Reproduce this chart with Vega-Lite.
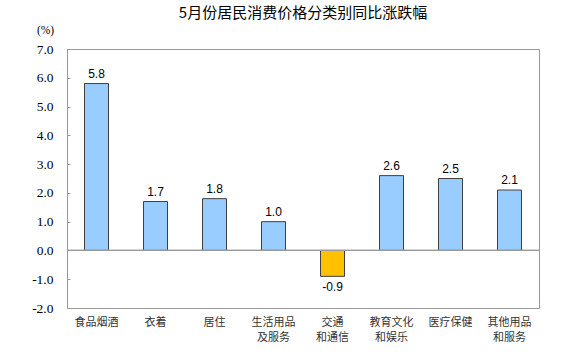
{
  "$schema": "https://vega.github.io/schema/vega-lite/v6.json",
  "autosize": "none",
  "width": 472,
  "height": 259,
  "padding": {"left": 67, "top": 49, "right": 28, "bottom": 55},
  "background": "white",
  "title": {
    "text": "5月份居民消费价格分类别同比涨跌幅",
    "font": "Noto Sans CJK SC",
    "fontSize": 15,
    "fontWeight": "normal",
    "color": "#000000",
    "anchor": "middle",
    "frame": "group",
    "offset": 3
  },
  "config": {
    "view": {"stroke": "#999999", "strokeWidth": 1},
    "axisY": {
      "labelFont": "Times New Roman",
      "labelFontSize": 13.5,
      "labelColor": "#000000",
      "titleFont": "Times New Roman",
      "titleFontSize": 11.5,
      "titleFontWeight": "normal",
      "titleColor": "#000000"
    }
  },
  "data": {
    "values": [
      {"category": "食品烟酒", "value": 5.8},
      {"category": "衣着", "value": 1.7},
      {"category": "居住", "value": 1.8},
      {"category": "生活用品|及服务", "value": 1.0},
      {"category": "交通|和通信", "value": -0.9},
      {"category": "教育文化|和娱乐", "value": 2.6},
      {"category": "医疗保健", "value": 2.5},
      {"category": "其他用品|和服务", "value": 2.1}
    ]
  },
  "transform": [
    {"calculate": "replace(format(datum.value, '.1f'), '\u2212', '-')", "as": "label"}
  ],
  "encoding": {
    "x": {
      "field": "category",
      "type": "nominal",
      "sort": null,
      "scale": {"paddingInner": 0, "paddingOuter": 0},
      "axis": {
        "title": null,
        "labelAngle": 0,
        "labelExpr": "split(datum.label, '|')",
        "labelFont": "Noto Sans CJK SC",
        "labelFontSize": 11,
        "labelColor": "#333333",
        "labelLineHeight": 15,
        "labelPadding": 8,
        "ticks": false,
        "domain": false
      }
    },
    "y": {
      "field": "value",
      "type": "quantitative",
      "scale": {"domain": [-2, 7], "nice": false},
      "axis": {
        "values": [-2, -1, 0, 1, 2, 3, 4, 5, 6, 7],
        "labelExpr": "replace(format(datum.value, '.1f'), '\u2212', '-')",
        "title": "(%)",
        "labelOverlap": false,
        "grid": false,
        "domain": false,
        "tickSize": -3,
        "tickColor": "#999999",
        "labelPadding": 17,
        "titleAngle": 0,
        "titleX": -22,
        "titleY": -14,
        "titleAlign": "center"
      }
    }
  },
  "layer": [
    {
      "mark": {"type": "bar", "stroke": "#404040", "strokeWidth": 1, "width": 24},
      "encoding": {
        "color": {
          "condition": {"test": "datum.value < 0", "value": "#FFC000"},
          "value": "#99CCFF"
        }
      }
    },
    {
      "transform": [{"filter": "datum.value >= 0"}],
      "mark": {"type": "text", "baseline": "bottom", "dy": -3, "font": "Liberation Sans", "fontSize": 12, "color": "#000000"},
      "encoding": {
        "text": {"field": "label", "type": "nominal"}
      }
    },
    {
      "transform": [{"filter": "datum.value < 0"}],
      "mark": {"type": "text", "baseline": "top", "dy": 6, "font": "Liberation Sans", "fontSize": 12, "color": "#000000"},
      "encoding": {
        "text": {"field": "label", "type": "nominal"}
      }
    },
    {
      "mark": {"type": "rule", "color": "#999999", "strokeWidth": 1},
      "encoding": {
        "x": {"value": 0},
        "x2": {"value": 472},
        "y": {
          "datum": 0,
          "type": "quantitative",
          "axis": {
            "values": [-2, -1, 0, 1, 2, 3, 4, 5, 6, 7],
            "labelExpr": "replace(format(datum.value, '.1f'), '\u2212', '-')",
            "title": "(%)",
            "labelOverlap": false,
            "grid": false,
            "domain": false,
            "tickSize": -3,
            "tickColor": "#999999",
            "labelPadding": 17,
            "titleAngle": 0,
            "titleX": -22,
            "titleY": -14,
            "titleAlign": "center"
          }
        }
      }
    }
  ]
}
